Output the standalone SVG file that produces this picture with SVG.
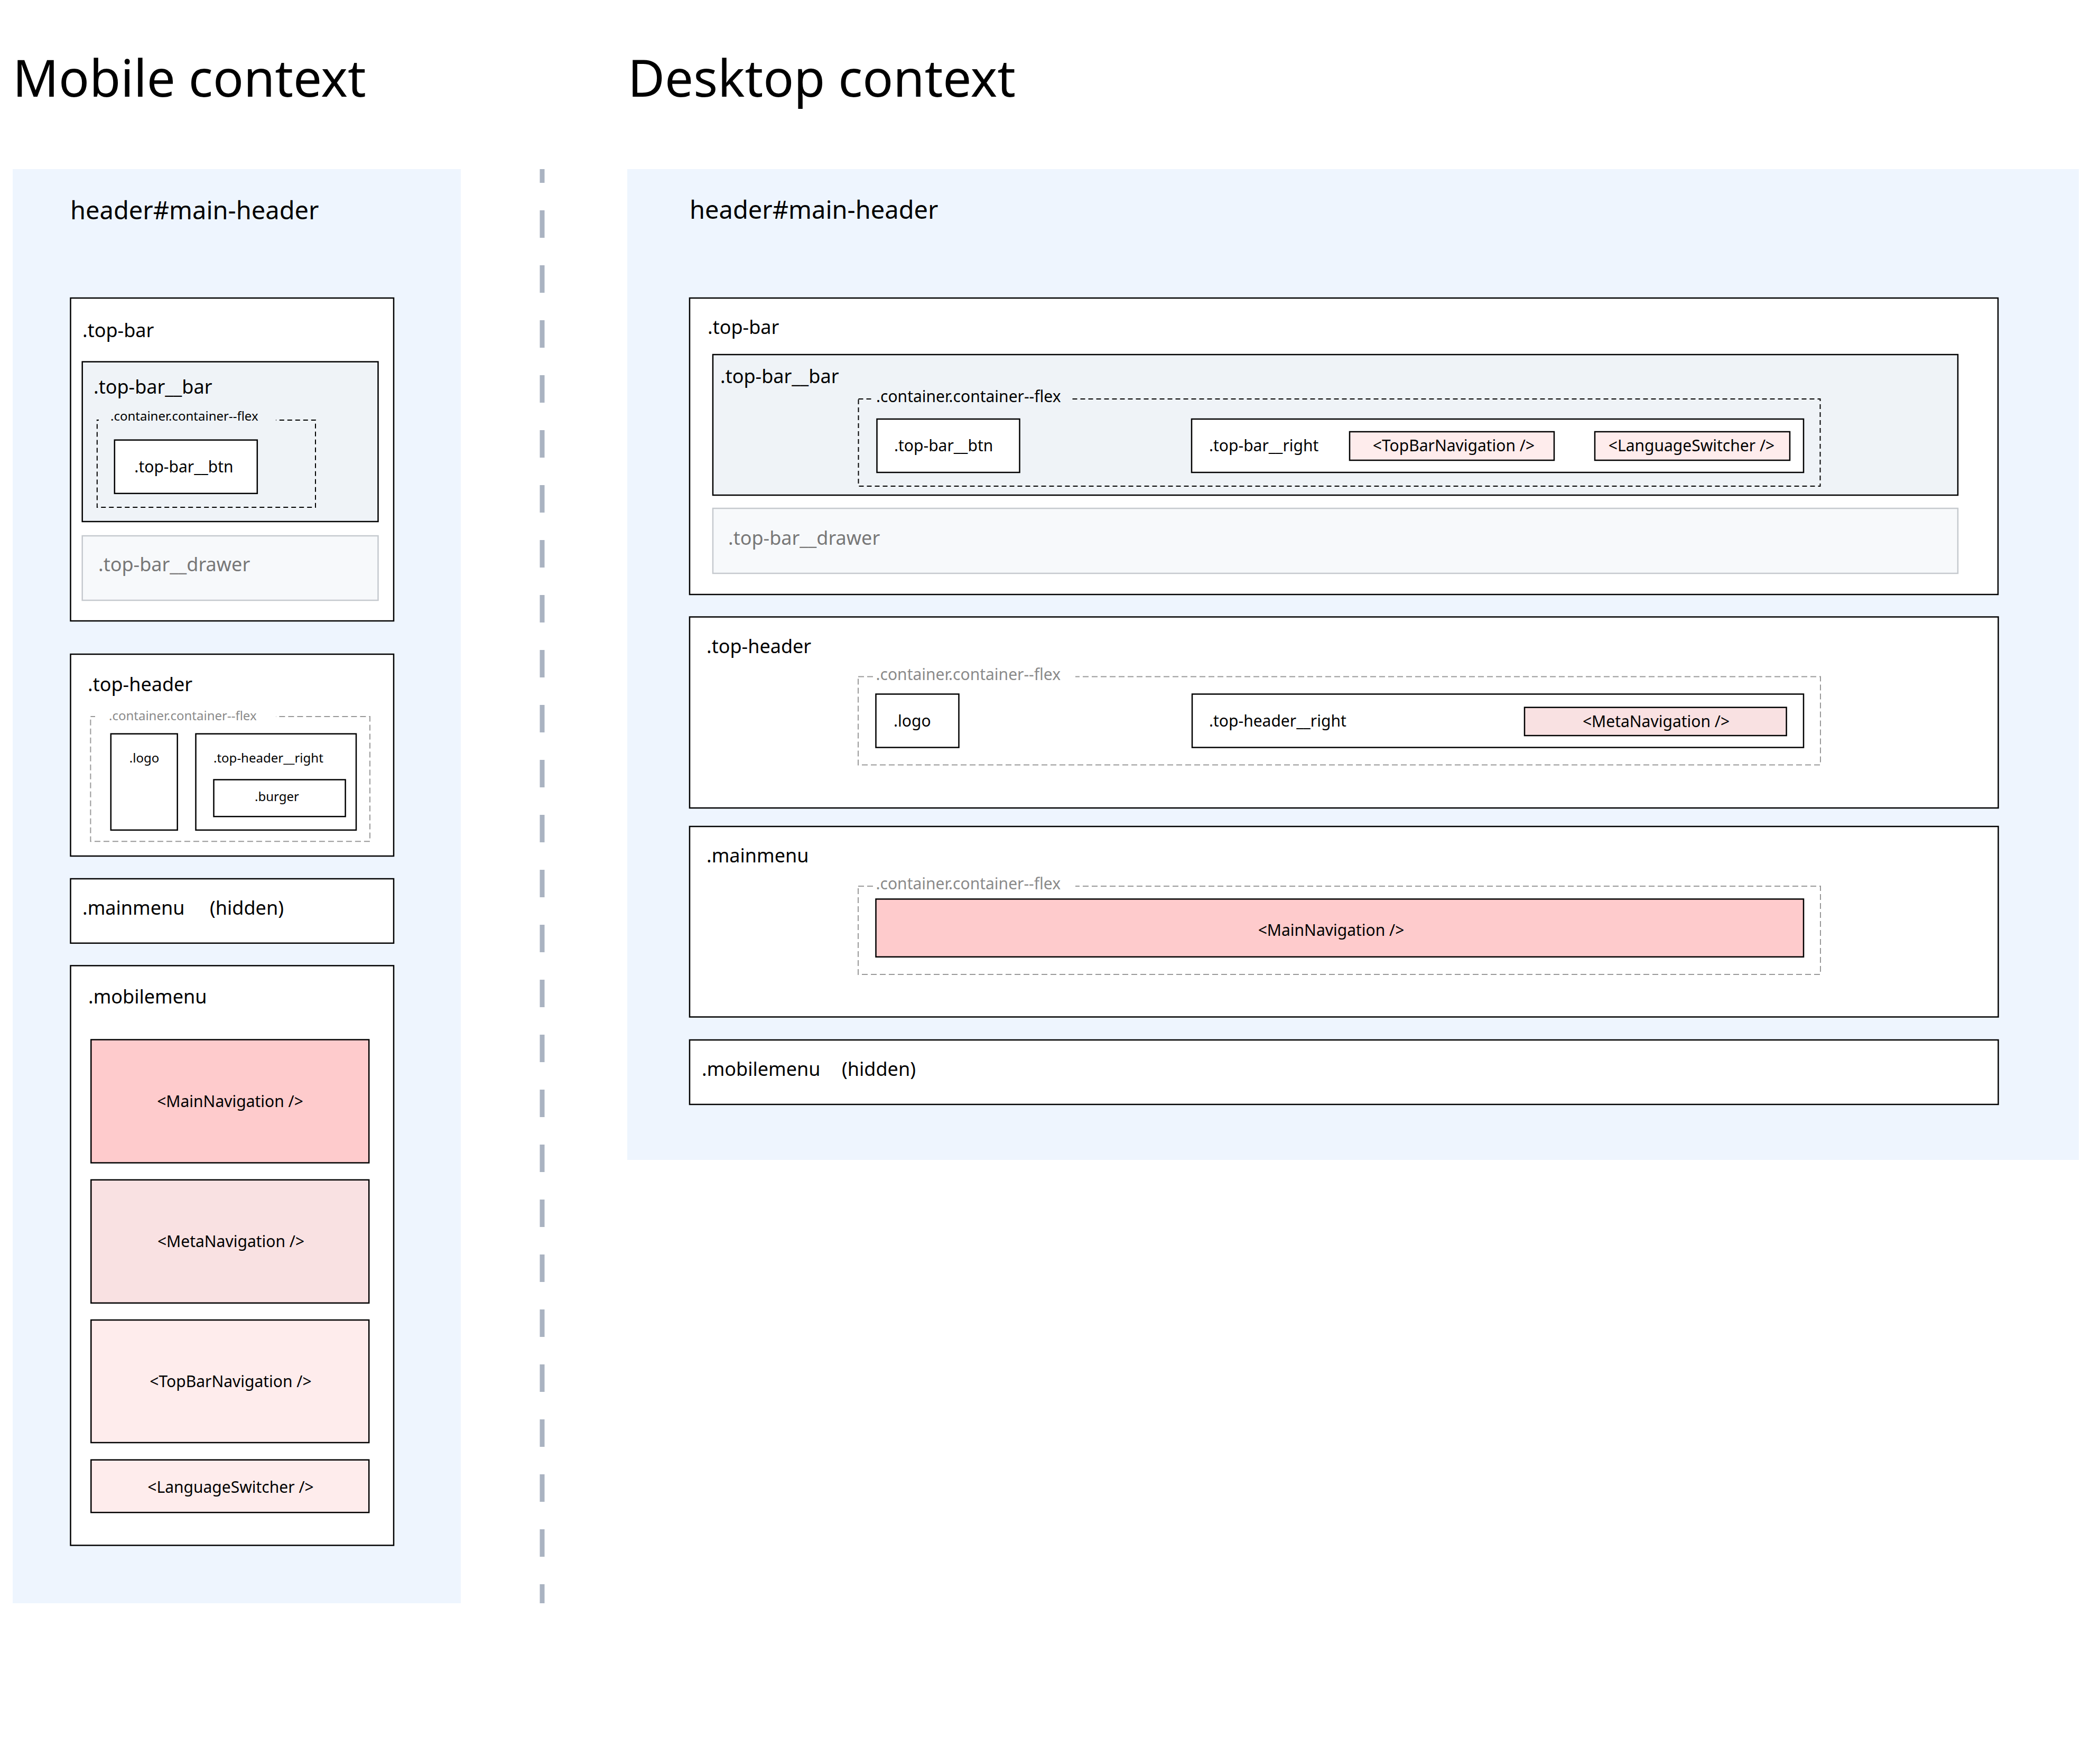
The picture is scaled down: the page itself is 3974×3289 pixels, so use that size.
<svg xmlns="http://www.w3.org/2000/svg" width="3974" height="3289" viewBox="0 0 3974 3289">
<style>
text{font-family:"Noto Sans","Open Sans","DejaVu Sans",sans-serif;fill:#000}
.title{font-size:96px}
.h1{font-size:47px}
.lbl{font-size:36px}
.sm{font-size:30px}
.xs{font-size:24px}
.gray{fill:#777}
.lgray{fill:#8a8a8a}
.mid{text-anchor:middle}
.bg{fill:#eef5fe}
.box{fill:#fff;stroke:#000;stroke-width:2.5}
.bar{fill:#eff3f7;stroke:#000;stroke-width:2.5}
.drawer{fill:#f7f9fb;stroke:#c5c9ce;stroke-width:2.5}
.dash{fill:none;stroke:#000;stroke-width:2;stroke-dasharray:9 6}
.gdash{fill:none;stroke:#999;stroke-width:2;stroke-dasharray:11 6}
.main{fill:#fecbcc;stroke:#000;stroke-width:2.5}
.meta{fill:#f9e1e2;stroke:#000;stroke-width:2.5}
.tbn{fill:#feecec;stroke:#000;stroke-width:2.5}
</style>
<rect width="3974" height="3289" fill="#fff"/>

<text class="title" x="24" y="183">Mobile context</text>
<text class="title" x="1188" y="183">Desktop context</text>

<g id="separator">
<line x1="1026" y1="320" x2="1026" y2="3034" stroke="#aab3c1" stroke-width="9" stroke-dasharray="52 52" stroke-dashoffset="26"/>
</g>

<!-- MOBILE -->
<g id="mobile-header">
<rect class="bg" x="24" y="320" width="848" height="2714"/>
<text class="h1" x="133" y="415">header#main-header</text>
</g>

<g id="m-top-bar">
<rect class="box" x="133.5" y="564" width="611.5" height="611"/>
<text class="lbl" x="156" y="638">.top-bar</text>
</g>
<g id="m-top-bar-bar">
<rect class="bar" x="155.7" y="684.6" width="559.8" height="302.4"/>
<text class="lbl" x="177" y="745">.top-bar__bar</text>
</g>
<g id="m-topbar-container">
<rect class="dash" x="183.8" y="795" width="413.2" height="165"/>
<rect x="187" y="790" width="335" height="10" fill="#eff3f7"/>
<text class="xs" x="209" y="796">.container.container--flex</text>
</g>
<g id="m-top-bar-btn">
<rect class="box" x="216.8" y="832.7" width="270" height="101.1"/>
<text class="sm mid" x="348" y="894">.top-bar__btn</text>
</g>
<g id="m-top-bar-drawer">
<rect class="drawer" x="155.7" y="1014" width="559.8" height="122"/>
<text class="lbl gray" x="186" y="1081">.top-bar__drawer</text>
</g>

<g id="m-top-header">
<rect class="box" x="133.5" y="1238" width="611.5" height="382"/>
<text class="lbl" x="166" y="1308">.top-header</text>
</g>
<g id="m-top-header-container">
<rect class="gdash" x="171.4" y="1356" width="528.6" height="236.3"/>
<rect x="180" y="1351" width="342" height="10" fill="#fff"/>
<text class="xs lgray" x="206" y="1363">.container.container--flex</text>
</g>
<g id="m-logo">
<rect class="box" x="209.8" y="1388.7" width="125.9" height="182.1"/>
<text class="xs mid" x="273" y="1443">.logo</text>
</g>
<g id="m-top-header-right">
<rect class="box" x="370.5" y="1388.7" width="303.5" height="182.1"/>
<text class="xs" x="404" y="1443">.top-header__right</text>
</g>
<g id="m-burger">
<rect class="box" x="404.5" y="1475.5" width="249.1" height="69.7"/>
<text class="xs mid" x="524" y="1516">.burger</text>
</g>

<g id="m-mainmenu">
<rect class="box" x="133.5" y="1663" width="611.5" height="121.8"/>
<text class="lbl" x="156" y="1731">.mainmenu</text>
<text class="lbl" x="397" y="1731">(hidden)</text>
</g>

<g id="m-mobilemenu">
<rect class="box" x="133.5" y="1827.4" width="611.5" height="1097"/>
<text class="lbl" x="167" y="1899">.mobilemenu</text>
</g>
<g id="m-main-navigation">
<rect class="main" x="172.3" y="1967.5" width="525.9" height="233"/>
<text class="sm mid" x="435.5" y="2095">&lt;MainNavigation /&gt;</text>
</g>
<g id="m-meta-navigation">
<rect class="meta" x="172.3" y="2232.8" width="525.9" height="233"/>
<text class="sm mid" x="437" y="2360">&lt;MetaNavigation /&gt;</text>
</g>
<g id="m-topbar-navigation">
<rect class="tbn" x="172.3" y="2498" width="525.9" height="232"/>
<text class="sm mid" x="436.5" y="2625">&lt;TopBarNavigation /&gt;</text>
</g>
<g id="m-language-switcher">
<rect class="tbn" x="172.3" y="2762.7" width="525.9" height="99.5"/>
<text class="sm mid" x="436.5" y="2825">&lt;LanguageSwitcher /&gt;</text>
</g>

<!-- DESKTOP -->
<g id="desktop-header">
<rect class="bg" x="1187" y="320" width="2747" height="1875"/>
<text class="h1" x="1305" y="414">header#main-header</text>
</g>

<g id="d-top-bar">
<rect class="box" x="1305" y="564" width="2476" height="561"/>
<text class="lbl" x="1339" y="632">.top-bar</text>
</g>
<g id="d-top-bar-bar">
<rect class="bar" x="1349" y="671" width="2356" height="266"/>
<text class="lbl" x="1363" y="725">.top-bar__bar</text>
</g>
<g id="d-topbar-container">
<rect class="dash" x="1624.5" y="755" width="1820" height="165"/>
<rect x="1650" y="750" width="376" height="10" fill="#eff3f7"/>
<text class="sm" x="1658" y="761">.container.container--flex</text>
</g>
<g id="d-top-bar-btn">
<rect class="box" x="1659.5" y="793" width="270" height="101"/>
<text class="sm" x="1692" y="854">.top-bar__btn</text>
</g>
<g id="d-top-bar-right">
<rect class="box" x="2255" y="793" width="1158" height="101"/>
<text class="sm" x="2288" y="854">.top-bar__right</text>
</g>
<g id="d-topbar-navigation">
<rect class="tbn" x="2554" y="817" width="387" height="54"/>
<text class="sm mid" x="2751" y="854">&lt;TopBarNavigation /&gt;</text>
</g>
<g id="d-language-switcher">
<rect class="tbn" x="3018" y="817" width="369" height="54"/>
<text class="sm mid" x="3201" y="854">&lt;LanguageSwitcher /&gt;</text>
</g>
<g id="d-top-bar-drawer">
<rect class="drawer" x="1349" y="962" width="2356" height="123"/>
<text class="lbl gray" x="1378" y="1031">.top-bar__drawer</text>
</g>

<g id="d-top-header">
<rect class="box" x="1305" y="1167.5" width="2476.5" height="361.5"/>
<text class="lbl" x="1337" y="1236">.top-header</text>
</g>
<g id="d-top-header-container">
<rect class="gdash" x="1624" y="1280.5" width="1821" height="167"/>
<rect x="1654" y="1275.5" width="381" height="10" fill="#fff"/>
<text class="sm lgray" x="1657.5" y="1287">.container.container--flex</text>
</g>
<g id="d-logo">
<rect class="box" x="1657.5" y="1313.5" width="157" height="101"/>
<text class="sm" x="1691" y="1375">.logo</text>
</g>
<g id="d-top-header-right">
<rect class="box" x="2256" y="1313.5" width="1157" height="101"/>
<text class="sm" x="2288" y="1375">.top-header__right</text>
</g>
<g id="d-meta-navigation">
<rect class="meta" x="2885" y="1338.7" width="495.6" height="53.3"/>
<text class="sm mid" x="3134" y="1376">&lt;MetaNavigation /&gt;</text>
</g>

<g id="d-mainmenu">
<rect class="box" x="1305" y="1564" width="2476.5" height="360.5"/>
<text class="lbl" x="1337" y="1632">.mainmenu</text>
</g>
<g id="d-mainmenu-container">
<rect class="gdash" x="1624" y="1677" width="1821" height="167"/>
<rect x="1654" y="1672" width="381" height="10" fill="#fff"/>
<text class="sm lgray" x="1657.5" y="1683">.container.container--flex</text>
</g>
<g id="d-main-navigation">
<rect class="main" x="1657.5" y="1701.4" width="1755.5" height="109.4"/>
<text class="sm mid" x="2519" y="1771">&lt;MainNavigation /&gt;</text>
</g>

<g id="d-mobilemenu">
<rect class="box" x="1305" y="1968" width="2476.5" height="122"/>
<text class="lbl" x="1328" y="2036">.mobilemenu</text>
<text class="lbl" x="1593" y="2036">(hidden)</text>
</g>
</svg>
